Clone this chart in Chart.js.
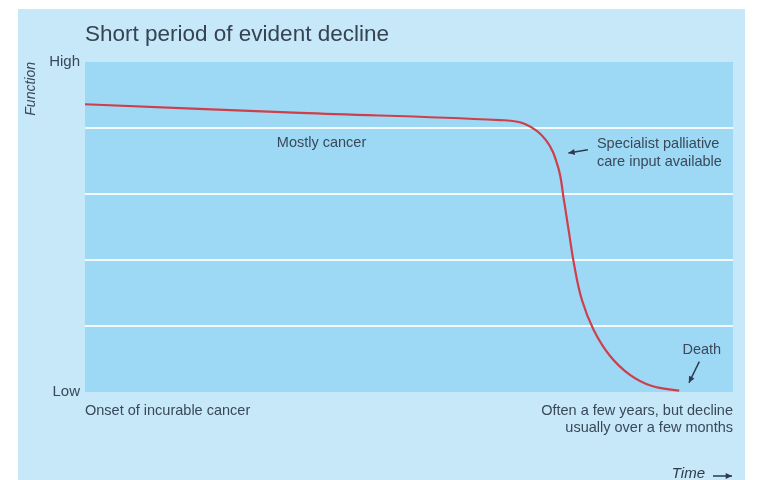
<!DOCTYPE html>
<html>
<head>
<meta charset="utf-8">
<script src="https://cdn.jsdelivr.net/npm/chart.js@4.4.1/dist/chart.umd.min.js"></script>
<style>
  html, body { margin: 0; padding: 0; background: #ffffff; }
  #wrap { width: 759px; height: 480px; position: relative; }
</style>
</head>
<body>
<div id="wrap"><canvas id="myChart" width="759" height="480"></canvas></div>
<script>
// time axis (0 = onset, 100 = right edge) and function level (0 = low, 5 = high)
const timePoints = [0, 33.2, 64.0, 67.9, 71.1, 73.0, 73.9, 74.7, 75.5, 76.7, 78.5, 81.0, 84.1, 87.5, 91.7];
const functionLevel = [4.36, 4.23, 4.12, 4.06, 3.82, 3.41, 2.91, 2.41, 1.92, 1.39, 0.94, 0.55, 0.26, 0.09, 0.02];

const yTickLabels = { 0: 'Low', 5: 'High' };
const xTickLabels = {
    0: 'Onset of incurable cancer',
    100: ['Often a few years, but decline', 'usually over a few months']
};

const textColor = '#3a4859';
const fontFamily = "'Liberation Sans', Arial, sans-serif";

const points = timePoints.map((t, i) => ({ x: t, y: functionLevel[i] }));

// background panel, title and the little notes with arrows
const decorPlugin = {
    id: 'decor',
    beforeDraw(chart) {
        const ctx = chart.ctx;
        const a = chart.chartArea;
        ctx.save();
        ctx.fillStyle = '#c6e8f9';
        ctx.fillRect(18, 9, 727, 471);
        ctx.fillStyle = '#9dd9f5';
        ctx.fillRect(a.left, a.top, a.right - a.left, a.bottom - a.top);
        ctx.restore();
    },
    afterDraw(chart) {
        const ctx = chart.ctx;
        const xs = chart.scales.x;
        const ys = chart.scales.y;
        const a = chart.chartArea;
        ctx.save();
        ctx.fillStyle = '#364352';
        ctx.font = '22.5px ' + fontFamily;
        ctx.textBaseline = 'middle';
        ctx.textAlign = 'left';
        ctx.fillText('Short period of evident decline', a.left, 35);

        ctx.fillStyle = textColor;
        ctx.font = '14.5px ' + fontFamily;
        ctx.fillText('Mostly cancer', xs.getPixelForValue(29.6), ys.getPixelForValue(3.77));

        ctx.fillText('Specialist palliative', xs.getPixelForValue(79), ys.getPixelForValue(3.76));
        ctx.fillText('care input available', xs.getPixelForValue(79), ys.getPixelForValue(3.49));
        ctx.fillText('Death', xs.getPixelForValue(92.2), ys.getPixelForValue(0.64));

        // arrows
        ctx.strokeStyle = '#2d3b4c';
        ctx.fillStyle = '#2d3b4c';
        ctx.lineWidth = 1.5;
        const arrow = (x1, y1, x2, y2) => {
            ctx.beginPath();
            ctx.moveTo(x1, y1);
            ctx.lineTo(x2, y2);
            ctx.stroke();
            const ang = Math.atan2(y2 - y1, x2 - x1);
            ctx.beginPath();
            ctx.moveTo(x2, y2);
            ctx.lineTo(x2 - 7 * Math.cos(ang - 0.45), y2 - 7 * Math.sin(ang - 0.45));
            ctx.lineTo(x2 - 7 * Math.cos(ang + 0.45), y2 - 7 * Math.sin(ang + 0.45));
            ctx.closePath();
            ctx.fill();
        };
        arrow(xs.getPixelForValue(77.6), ys.getPixelForValue(3.67), xs.getPixelForValue(74.6), ys.getPixelForValue(3.62));
        arrow(xs.getPixelForValue(94.8), ys.getPixelForValue(0.46), xs.getPixelForValue(93.2), ys.getPixelForValue(0.14));

        // time label under the axis
        ctx.font = 'italic 15px ' + fontFamily;
        ctx.textAlign = 'right';
        ctx.fillText('Time', a.right - 28, 474);
        arrow(a.right - 20, 476, a.right - 1, 476);
        ctx.restore();
    }
};

const data = {
    datasets: [{
        label: 'Function',
        data: points,
        borderColor: '#cf3f4b',
        borderWidth: 2.2,
        pointRadius: 0,
        tension: 0.4,
        fill: false
    }]
};

const config = {
    type: 'line',
    data: data,
    options: {
        responsive: false,
        animation: false,
        layout: { padding: { left: 18, top: 62, right: 26, bottom: 0 } },
        plugins: {
            legend: { display: false },
            tooltip: { enabled: false }
        },
        scales: {
            x: {
                type: 'linear',
                min: 0,
                max: 100,
                afterFit: (scale) => { scale.height = 88; },
                afterBuildTicks: (scale) => { scale.ticks = [{ value: 0 }, { value: 100 }]; },
                grid: { display: false, drawTicks: false },
                border: { display: false },
                ticks: {
                    align: 'inner',
                    maxRotation: 0,
                    padding: 10,
                    color: textColor,
                    font: { family: fontFamily, size: 14.5, lineHeight: 1.2 },
                    callback: (v) => xTickLabels[v] || ''
                }
            },
            y: {
                min: 0,
                max: 5,
                afterFit: (scale) => { scale.width = 67; },
                grid: {
                    drawTicks: false,
                    lineWidth: 2,
                    color: (c) => (c.tick && c.tick.value > 0 && c.tick.value < 5) ? '#f2fafd' : 'rgba(0,0,0,0)'
                },
                border: { display: false },
                ticks: {
                    stepSize: 1,
                    padding: 5,
                    color: textColor,
                    font: { family: fontFamily, size: 15 },
                    callback: (v) => yTickLabels[v] || ''
                },
                title: {
                    display: true,
                    text: 'Function',
                    align: 'end',
                    color: textColor,
                    padding: { top: 5, bottom: 0 },
                    font: { family: fontFamily, size: 14, style: 'italic' }
                }
            }
        }
    },
    plugins: [decorPlugin]
};

new Chart(
    document.getElementById('myChart'),
    config
);
</script>
</body>
</html>
